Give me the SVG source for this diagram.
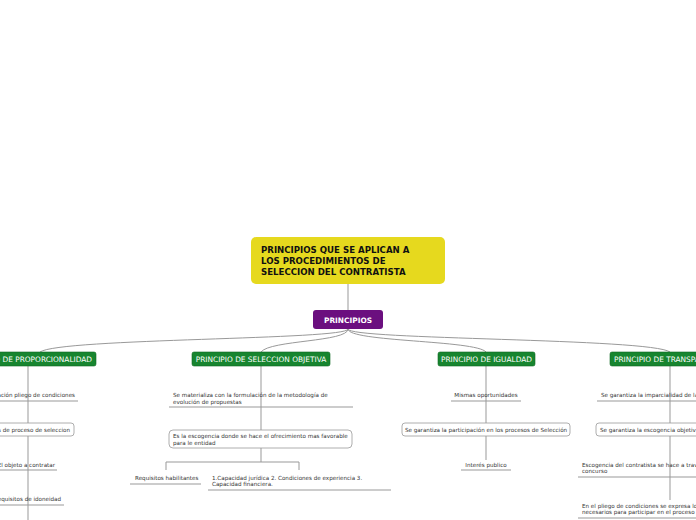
<svg xmlns="http://www.w3.org/2000/svg" width="696" height="520" viewBox="0 0 696 520">
<style>
.t{font-family:"DejaVu Sans",Verdana,sans-serif;font-size:5.6px;fill:#333}
.g{fill:#17852f;stroke:#0d6a22;stroke-width:0.6}
.gt{font-family:"DejaVu Sans",Verdana,sans-serif;font-size:7.4px;fill:#fff;text-anchor:middle}
.ln{fill:none;stroke:#999;stroke-width:1}
.ul{stroke:#999;stroke-width:1}
.bx{fill:#fff;stroke:#999;stroke-width:0.8}
.tt{font-family:"DejaVu Sans",Verdana,sans-serif;font-size:8.6px;font-weight:bold;fill:#111}
</style>
<rect width="696" height="520" fill="#fff"/>
<g id="connectors">
<path class="ln" d="M348 284V310"/>
<path class="ln" d="M348 329C348 340 60 338 40 352"/>
<path class="ln" d="M348 329C348 342 270 340 261 352"/>
<path class="ln" d="M348 329C348 342 476 340 486 352"/>
<path class="ln" d="M348 329C348 340 650 338 670 352"/>
<path class="ln" d="M28 366V520"/>
<path class="ln" d="M261 366V430M261 448V462M166 470V462H299V470"/>
<path class="ln" d="M486 366V460"/>
<path class="ln" d="M670 366V500"/>
</g>
<g id="title"><rect x="251" y="237" width="194" height="47" rx="5" fill="#e6d91e"/>
<text class="tt" x="261" y="253">PRINCIPIOS QUE SE APLICAN A</text>
<text class="tt" x="261" y="264">LOS PROCEDIMIENTOS DE</text>
<text class="tt" x="261" y="275">SELECCION DEL CONTRATISTA</text></g>
<g id="principios"><rect x="313" y="310" width="70" height="19" rx="3" fill="#6b0f7f"/>
<text x="348" y="322.5" font-family="DejaVu Sans,Verdana,sans-serif" font-size="7.4" font-weight="bold" fill="#fff" text-anchor="middle">PRINCIPIOS</text></g>
<g id="proporcionalidad"><rect class="g" x="-64" y="352" width="160" height="14" rx="2"/><text class="gt" x="92" y="361.5" style="text-anchor:end">PRINCIPIO DE PROPORCIONALIDAD</text></g>
<g id="seleccion"><rect class="g" x="192" y="352" width="138" height="14" rx="2"/><text class="gt" x="261" y="361.5">PRINCIPIO DE SELECCION OBJETIVA</text></g>
<g id="igualdad"><rect class="g" x="438" y="352" width="97" height="14" rx="2"/><text class="gt" x="486.5" y="361.5">PRINCIPIO DE IGUALDAD</text></g>
<g id="transparencia"><rect class="g" x="610" y="352" width="130" height="14" rx="2"/><text class="gt" x="614" y="361.5" style="text-anchor:start">PRINCIPIO DE TRANSPARENCIA</text></g>
<g id="p1"><text class="t" x="75" y="397" text-anchor="end">Elaboración pliego de condiciones</text><line class="ul" x1="0" y1="401" x2="78" y2="401"/></g>
<g id="p2"><rect class="bx" x="-40" y="423" width="114" height="13" rx="3"/><text class="t" x="70" y="432" text-anchor="end">Etapas de proceso de seleccion</text></g>
<g id="p3"><text class="t" x="55" y="467" text-anchor="end">El objeto a contratar</text><line class="ul" x1="0" y1="470" x2="57" y2="470"/></g>
<g id="p4"><text class="t" x="61" y="501" text-anchor="end">Requisitos de idoneidad</text><line class="ul" x1="0" y1="505" x2="64" y2="505"/></g>
<g id="s1"><text class="t" x="173" y="397">Se materializa con la formulación de la metodología de</text><text class="t" x="173" y="404">evolución de propuestas</text><line class="ul" x1="169" y1="407" x2="353" y2="407"/></g>
<g id="s2"><rect class="bx" x="169" y="430" width="183" height="18" rx="4"/><text class="t" x="173" y="438">Es la escogencia donde se hace el ofrecimiento mas favorable</text><text class="t" x="173" y="445">para le entidad</text></g>
<g id="s3"><text class="t" x="135" y="480">Requisitos habilitantes</text><line class="ul" x1="130" y1="484" x2="201" y2="484"/></g>
<g id="s4"><text class="t" x="212" y="480">1.Capacidad jurídica 2. Condiciones de experiencia 3.</text><text class="t" x="212" y="486">Capacidad financiera.</text><line class="ul" x1="208" y1="490" x2="391" y2="490"/></g>
<g id="i1"><text class="t" x="486" y="397" text-anchor="middle">Mismas oportunidades</text><line class="ul" x1="451" y1="401" x2="521" y2="401"/></g>
<g id="i2"><rect class="bx" x="402" y="423" width="168" height="13" rx="3"/><text class="t" x="486" y="432" text-anchor="middle">Se garantiza la participación en los procesos de Selección</text></g>
<g id="i3"><text class="t" x="486" y="467" text-anchor="middle">Interés publico</text><line class="ul" x1="461" y1="470" x2="511" y2="470"/></g>
<g id="t1"><text class="t" x="601" y="397">Se garantiza la imparcialidad de la administración</text><line class="ul" x1="597" y1="401" x2="696" y2="401"/></g>
<g id="t2"><rect class="bx" x="596" y="423" width="140" height="13" rx="3"/><text class="t" x="600" y="432">Se garantiza la escogencia objetiva</text></g>
<g id="t3"><text class="t" x="582" y="467">Escogencia del contratista se hace a través de</text><text class="t" x="582" y="473">concurso</text><line class="ul" x1="578" y1="477" x2="696" y2="477"/></g>
<g id="t4"><text class="t" x="582" y="508">En el pliego de condiciones se expresa los requisitos</text><text class="t" x="582" y="514">necesarios para participar en el proceso de</text><line class="ul" x1="578" y1="518" x2="696" y2="518"/></g>
</svg>
